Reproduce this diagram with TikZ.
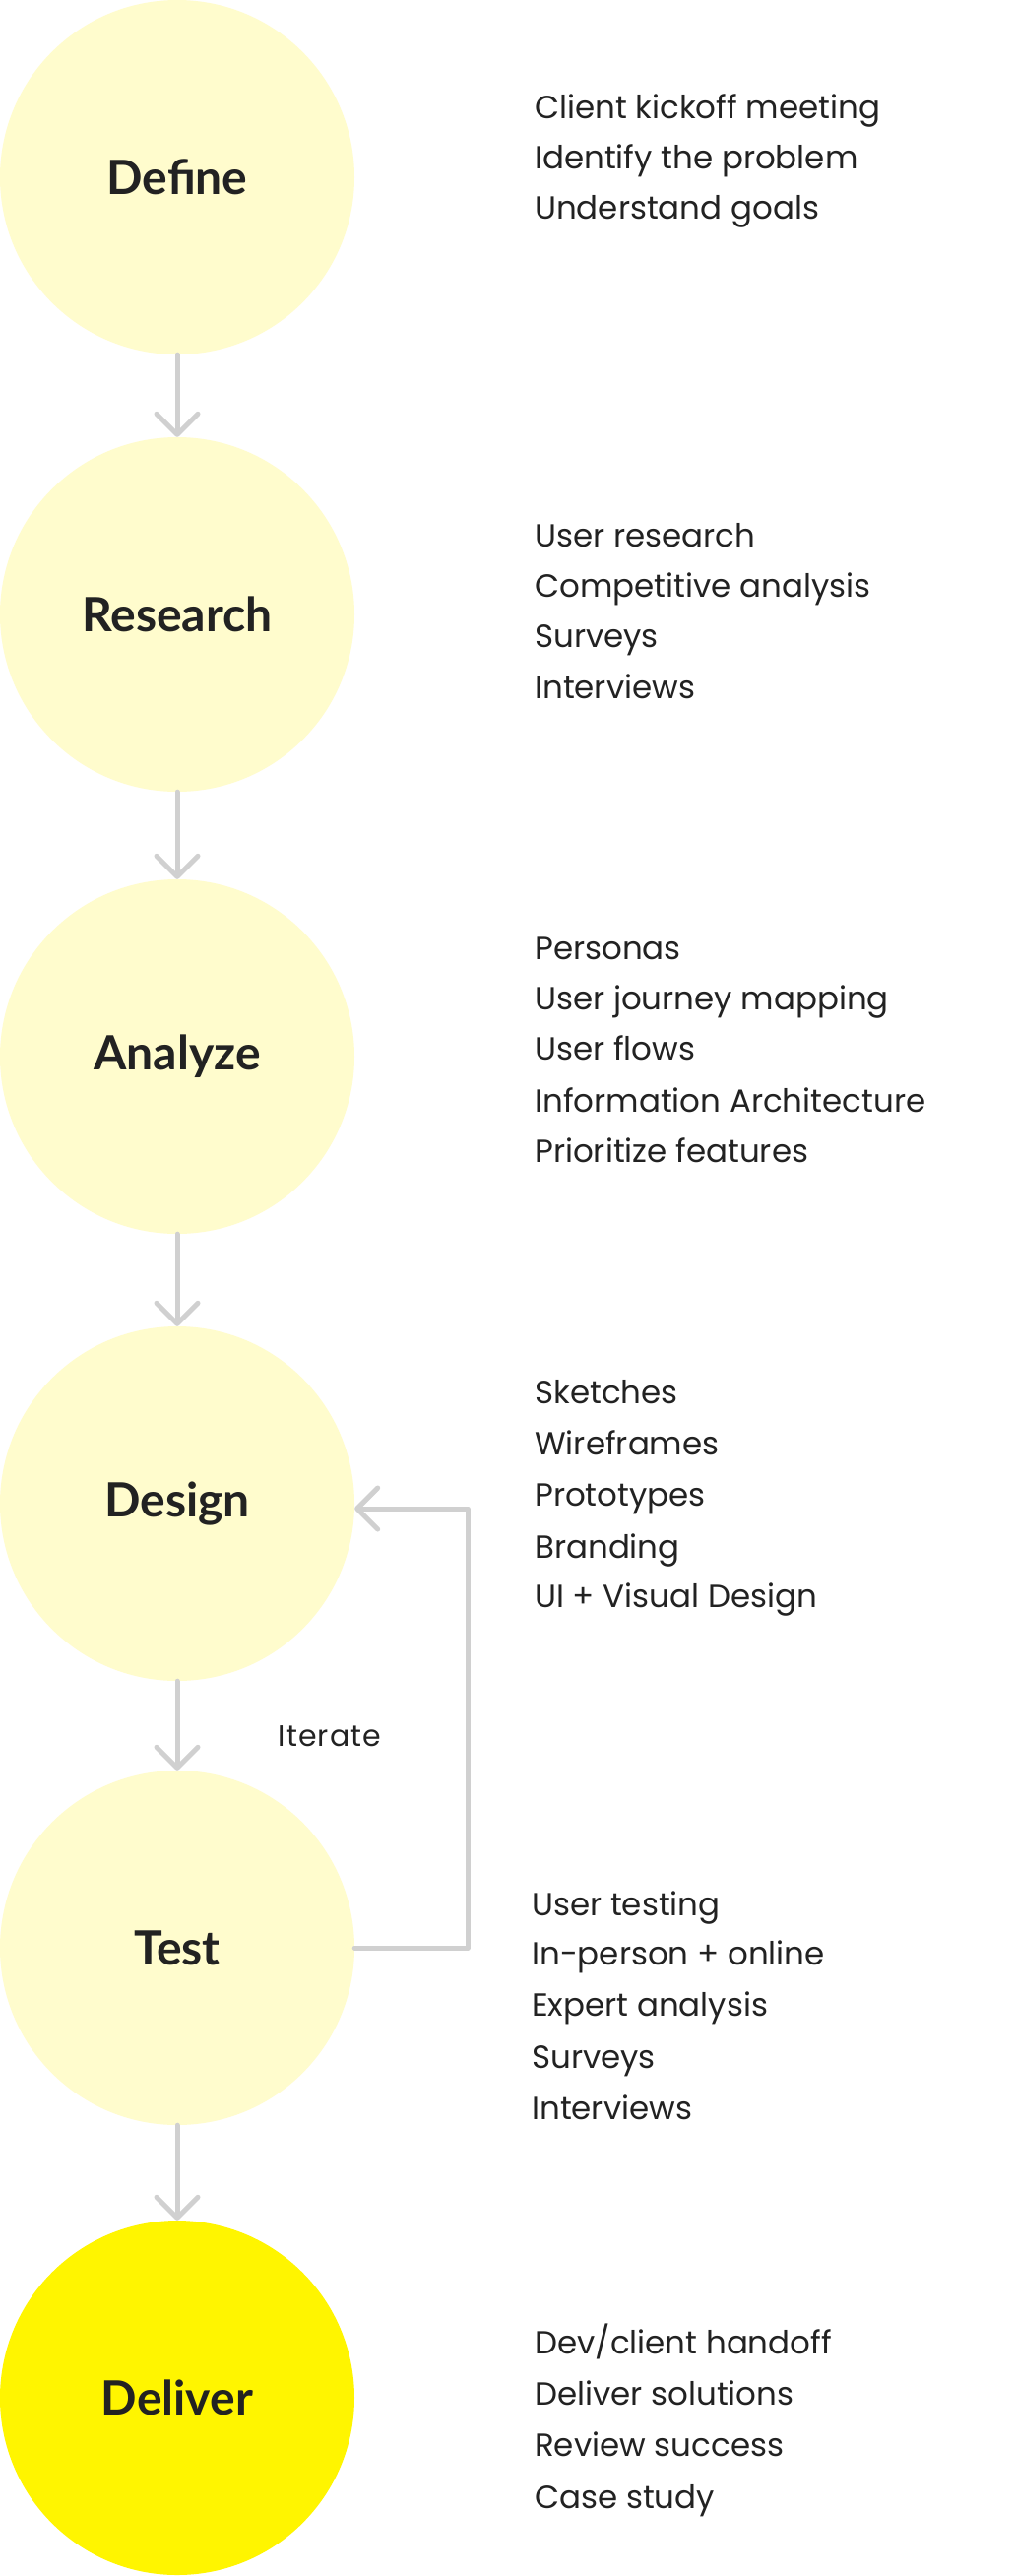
\documentclass[tikz,border=0pt]{standalone}
\usepackage{fontspec}
\usetikzlibrary{arrows.meta}
\newfontfamily\headfont{Lato}
\newfontfamily\listfont{Poppins}
\newfontfamily\labelfont{Poppins}[LetterSpace=4]
\definecolor{pale}{HTML}{FFFCCD}
\definecolor{bright}{HTML}{FFF500}
\definecolor{ink}{HTML}{222222}
\definecolor{linegray}{HTML}{D0D0D0}
\tikzset{
  phase/.style={circle, minimum size=360pt, inner sep=0pt, fill=pale, text=ink,
    font=\headfont\bfseries\fontsize{48pt}{50pt}\selectfont},
  lastphase/.style={phase, fill=bright},
  item/.style={anchor=base west, inner sep=0pt, text=ink,
    font=\listfont\fontsize{32.5pt}{36pt}\selectfont},
  conn/.style={draw=linegray, line width=5pt, line cap=round, line join=round,
    -{Straight Barb[length=21pt, width=42pt, round]}},
  looplabel/.style={inner sep=0pt, text=ink, font=\labelfont\fontsize{30pt}{32pt}\selectfont}
}
\begin{document}
\begin{tikzpicture}[x=1pt, y=-1pt]
\useasboundingbox[fill=white] (0,0) rectangle (1032,2616);

\node[phase] (define) at (180,180) {Define};
\node[phase] (research) at (180,624) {Research};
\node[phase] (analyze) at (180,1073) {Analyze};
\node[phase] (design) at (180,1527) {Design};
\node[phase] (test) at (180,1978) {Test};
\node[lastphase] (deliver) at (180,2435) {Deliver};

\draw[conn] (define.south) -- (research.north);
\draw[conn] (research.south) -- (analyze.north);
\draw[conn] (analyze.south) -- (design.north);
\draw[conn] (design.south) -- (test.north);
\draw[conn] (test.south) -- (deliver.north);

\coordinate (loopcorner) at (475,1532);
\draw[conn] (test.east) -| (loopcorner) -- (loopcorner -| design.east);
\node[looplabel] (iterate) at (335,1763) {Iterate};

\node[item] (d1) at (543,120) {Client kickoff meeting};
\node[item] (d2) at (543,171) {Identify the problem};
\node[item] (d3) at (543,222) {Understand goals};

\node[item] (r1) at (543,555) {User research};
\node[item] (r2) at (543,606) {Competitive analysis};
\node[item] (r3) at (543,657) {Surveys};
\node[item] (r4) at (543,709) {Interviews};

\node[item] (a1) at (543,974) {Personas};
\node[item] (a2) at (543,1025) {User journey mapping};
\node[item] (a3) at (543,1076) {User flows};
\node[item] (a4) at (543,1129) {Information Architecture};
\node[item] (a5) at (543,1180) {Prioritize features};

\node[item] (s1) at (543,1425) {Sketches};
\node[item] (s2) at (543,1477) {Wireframes};
\node[item] (s3) at (543,1529) {Prototypes};
\node[item] (s4) at (543,1582) {Branding};
\node[item] (s5) at (543,1632) {UI + Visual Design};

\node[item] (t1) at (540,1945) {User testing};
\node[item] (t2) at (540,1995) {In-person + online};
\node[item] (t3) at (540,2047) {Expert analysis};
\node[item] (t4) at (540,2100) {Surveys};
\node[item] (t5) at (540,2152) {Interviews};

\node[item] (v1) at (543,2390) {Dev/client handoff};
\node[item] (v2) at (543,2442) {Deliver solutions};
\node[item] (v3) at (543,2494) {Review success};
\node[item] (v4) at (543,2547) {Case study};
\end{tikzpicture}
\end{document}
